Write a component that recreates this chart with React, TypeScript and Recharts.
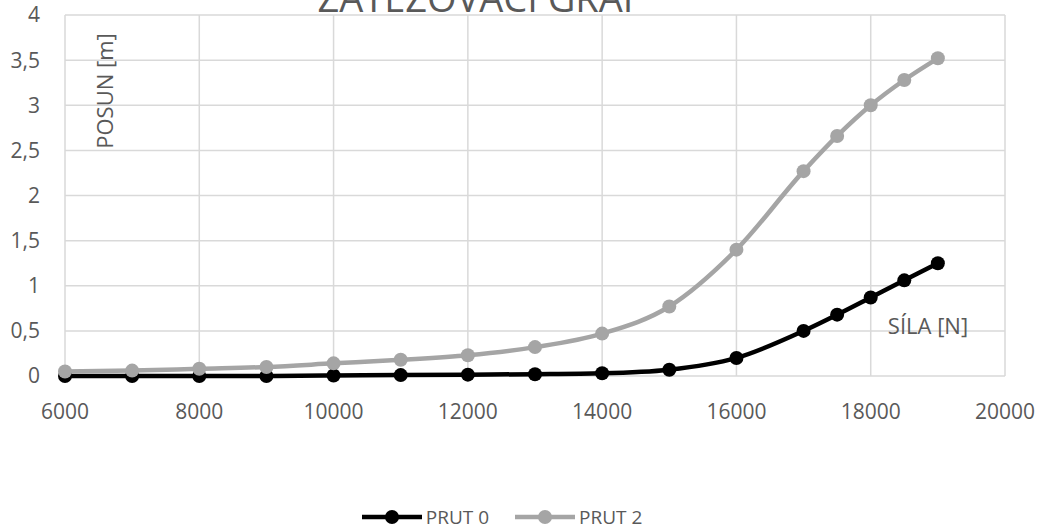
import React from "react";
import { LineChart, Line, XAxis, YAxis, CartesianGrid, Legend } from "recharts";

const sila = [6000, 7000, 8000, 9000, 10000, 11000, 12000, 13000, 14000, 15000, 16000, 17000, 17500, 18000, 18500, 19000];
const prut0 = [0, 0, 0, 0, 0.005, 0.01, 0.015, 0.02, 0.03, 0.07, 0.2, 0.5, 0.68, 0.87, 1.06, 1.25];
const prut2 = [0.05, 0.06, 0.08, 0.1, 0.14, 0.18, 0.23, 0.32, 0.47, 0.77, 1.4, 2.27, 2.66, 3.0, 3.28, 3.52];
const xTicks = [6000, 8000, 10000, 12000, 14000, 16000, 18000, 20000];
const yTicks = [0, 0.5, 1, 1.5, 2, 2.5, 3, 3.5, 4];

const data = sila.map((s, i) => ({ sila: s, p0: prut0[i], p2: prut2[i] }));

const FONT = "'Open Sans', sans-serif";
const TXT = "#595959";

// legend like excel: line with a dot in the middle
const renderLegend = () => {
  const items = [
    { label: "PRUT 0", color: "#000000" },
    { label: "PRUT 2", color: "#a5a5a5" },
  ];
  return (
    <div style={{ display: "flex", justifyContent: "center", gap: 26, fontFamily: FONT, fontSize: 19, color: TXT }}>
      {items.map((it) => (
        <div key={it.label} style={{ display: "flex", alignItems: "center", gap: 4 }}>
          <svg width={60} height={20}>
            <line x1={0} y1={10} x2={60} y2={10} stroke={it.color} strokeWidth={4.5} />
            <circle cx={30} cy={10} r={7} fill={it.color} />
          </svg>
          <span>{it.label}</span>
        </div>
      ))}
    </div>
  );
};

export default function App() {
  const fmt = (v: number) => String(v).replace(".", ",");
  return (
    <div style={{ position: "absolute", left: 0, top: 0, width: 1047, height: 531, background: "#fff" }}>
      <LineChart width={1047} height={531} data={data} margin={{ top: 15, right: 42, left: 0, bottom: 125 }}>
        <CartesianGrid stroke="#d9d9d9" strokeWidth={1.5} />
        <XAxis
          dataKey="sila"
          type="number"
          domain={[6000, 20000]}
          ticks={xTicks}
          axisLine={false}
          tickLine={false}
          tickMargin={22}
          height={30}
          tick={{ fill: TXT, fontSize: 21, fontFamily: FONT }}
        />
        <YAxis
          domain={[0, 4]}
          ticks={yTicks}
          tickFormatter={fmt}
          axisLine={false}
          tickLine={false}
          tickMargin={19}
          width={65}
          tick={{ fill: TXT, fontSize: 21, fontFamily: FONT }}
        />
        <Legend
          verticalAlign="middle"
          align="center"
          layout="horizontal"
          content={renderLegend}
          wrapperStyle={{ top: 504, left: 0, width: 1004 }}
        />
        <Line
          type="monotone"
          dataKey="p0"
          name="PRUT 0"
          stroke="#000000"
          strokeWidth={4.5}
          dot={{ r: 7, fill: "#000000", stroke: "#000000", strokeWidth: 0 }}
          isAnimationActive={false}
        />
        <Line
          type="monotone"
          dataKey="p2"
          name="PRUT 2"
          stroke="#a5a5a5"
          strokeWidth={4.5}
          dot={{ r: 7, fill: "#a5a5a5", stroke: "#a5a5a5", strokeWidth: 0 }}
          isAnimationActive={false}
        />
      </LineChart>
      <svg width={1047} height={531} style={{ position: "absolute", left: 0, top: 0, pointerEvents: "none" }}>
        <text x={480} y={12} textAnchor="middle" fontFamily={FONT} fontSize={38} fill={TXT}>
          ZATĚŽOVACÍ GRAF
        </text>
        <text x={0} y={0} transform="translate(113,91) rotate(-90)" textAnchor="middle" fontFamily={FONT} fontSize={22} fill={TXT}>
          POSUN [m]
        </text>
        <text x={928} y={334} textAnchor="middle" fontFamily={FONT} fontSize={22} fill={TXT}>
          SÍLA [N]
        </text>
      </svg>
    </div>
  );
}
